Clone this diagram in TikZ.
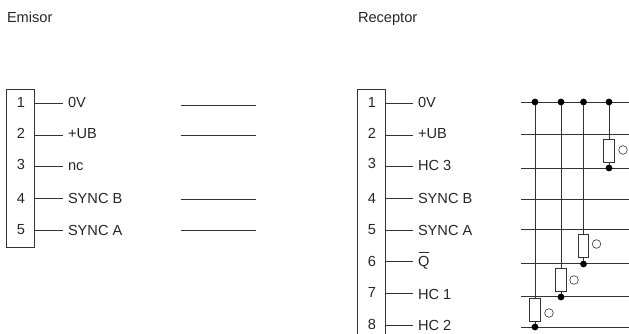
\documentclass[tikz,border=0pt]{standalone}
\usepackage{fontspec}
\setmainfont{Liberation Sans}
\definecolor{ln}{gray}{0.2}
\tikzset{x=1pt,y=-1pt,
 every node/.style={inner sep=0pt,outer sep=0pt,text=black!85},
 head/.style={anchor=base west,font=\fontsize{14.6}{16}\selectfont},
 lab/.style={anchor=base west,font=\fontsize{14.6}{16}\selectfont},
 num/.style={anchor=base,font=\fontsize{14.6}{16}\selectfont},
 wire/.style={draw=ln,line width=0.8pt},
 res/.style={draw=ln,fill=white,line width=0.8pt,minimum width=10.5pt,minimum height=23pt},
 dot/.style={circle,fill=black,minimum size=6.8pt},
 ring/.style={circle,draw=ln,line width=0.6pt,minimum size=8.6pt}}
\begin{document}
\begin{tikzpicture}
\useasboundingbox (0,0) rectangle (629,334);
\node[head] (he) at (7,23) {Emisor};
\node[head] (hr) at (358,23) {Receptor};
\draw[wire] (6,89) rectangle (34,247);
\draw[wire] (357,334) -- (357,89) -- (385,89) -- (385,334);
% Emisor rows: index, wire y, number baseline, label baseline, text
\foreach \i/\y/\ny/\ly/\t in {1/103/108/108/0V,2/135/139/139/+UB,3/166/169/171/nc,4/198/203/203/SYNC B,5/230/234/235/SYNC A}{
 \node[num] (en\i) at (21,\ny) {\i};
 \coordinate (ea\i) at (35,\y);
 \coordinate (eb\i) at (63,\y);
 \draw[wire] (ea\i) -- (eb\i);
 \node[lab] (el\i) at (68,\ly) {\t};
}
\foreach \i/\y in {1/105,2/135,4/199,5/230}{
 \coordinate (fa\i) at (181,\y);
 \coordinate (fb\i) at (256,\y);
 \draw[wire] (fa\i) -- (fb\i);
}
% Receptor rows
\foreach \i/\y/\ny/\ly/\t in {1/103/108/108/0V,2/135/139/139/+UB,3/166/168/171/HC 3,4/198/203/203/SYNC B,5/230/234/235/SYNC A,6/261/266/266/{\makebox[0pt][l]{\raisebox{13pt}{\kern0.8pt\rule{10pt}{0.8pt}}}Q},7/293/297/299/HC 1,8/325/329/330/HC 2}{
 \node[num] (rn\i) at (372,\ny) {\i};
 \coordinate (ra\i) at (386,\y);
 \coordinate (rb\i) at (413,\y);
 \draw[wire] (ra\i) -- (rb\i);
 \node[lab] (rl\i) at (418,\ly) {\t};
}
% Bus
\foreach \n/\y in {a/102,b/134,c/168,d/199,e/229,f/263,g/296,h/327}{
 \coordinate (\n0) at (521,\y);
 \coordinate (\n1) at (629,\y);
 \draw[wire] (\n0) -- (\n1);
}
% Taps: column, bottom rail y, resistor centre y, ring centre
\foreach \n/\x/\by/\ry/\cx/\cy in {p/535/327/309.5/549/313,q/561/297/279.5/574/280,r/583.5/264/246/596.5/244,s/609/168/150.5/623/150}{
 \node[dot] (\n t) at (\x,102) {};
 \node[dot] (\n b) at (\x,\by) {};
 \node[res] (\n r) at (\x,\ry) {};
 \node[ring] (\n c) at (\cx,\cy) {};
 \draw[wire] (\n t) -- (\n r);
 \draw[wire] (\n r) -- (\n b);
}
\end{tikzpicture}
\end{document}
